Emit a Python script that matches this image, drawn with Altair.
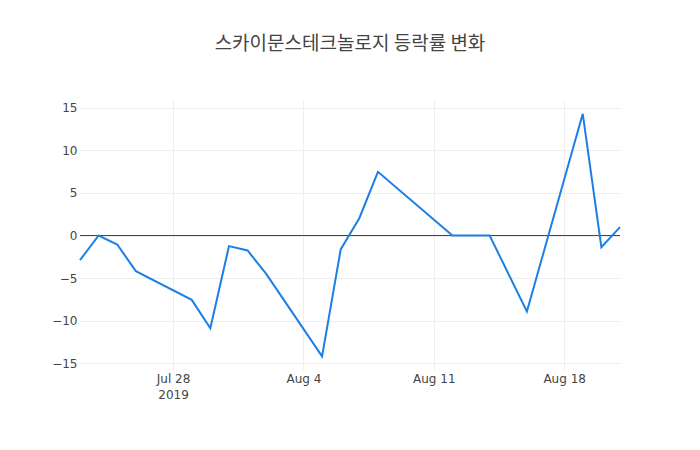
import altair as alt
import pandas as pd

dates = [
    "2019-07-23", "2019-07-24", "2019-07-25", "2019-07-26", "2019-07-29",
    "2019-07-30", "2019-07-31", "2019-08-01", "2019-08-02", "2019-08-05",
    "2019-08-06", "2019-08-07", "2019-08-08", "2019-08-12", "2019-08-13",
    "2019-08-14", "2019-08-16", "2019-08-19", "2019-08-20", "2019-08-21",
]
change = [
    -2.9, 0.0, -1.06, -4.19, -7.56,
    -10.9, -1.25, -1.76, -4.5, -14.2,
    -1.64, 2.03, 7.48, 0.0, 0.0,
    0.0, -8.93, 14.3, -1.37, 0.98,
]
tick_days = [28, 4, 11, 18]
tick_months = [7, 8, 8, 8]

df = pd.DataFrame({"date": dates, "change": change})

font = "DejaVu Sans"
y_domain = [-15.80, 15.92]
x_ticks = [alt.DateTime(year=2019, month=m, date=d, utc=True)
           for m, d in zip(tick_months, tick_days)]

x = alt.X(
    "date:T",
    title=None,
    scale=alt.Scale(
        type="utc",
        domain=[alt.DateTime(year=2019, month=7, date=23, utc=True),
                alt.DateTime(year=2019, month=8, date=21, utc=True)],
    ),
    axis=alt.Axis(
        values=x_ticks,
        labelExpr="datum.index == 0 ? [utcFormat(datum.value, '%b %-d'), '2019'] : utcFormat(datum.value, '%b %-d')",
        labelLineHeight=16,
        labelPadding=3,
    ),
)
y = alt.Y(
    "change:Q",
    title=None,
    scale=alt.Scale(domain=y_domain, nice=False, zero=False),
    axis=alt.Axis(values=[-15, -10, -5, 0, 5, 10, 15], labelPadding=3),
)

line = alt.Chart(df).mark_line(color="#1c7fe6", strokeWidth=2).encode(x=x, y=y)

# zero line
zero = alt.Chart(pd.DataFrame({"v": [0]})).mark_rule(
    color="#444444", strokeWidth=1
).encode(y=alt.Y("v:Q", scale=alt.Scale(domain=y_domain, nice=False, zero=False)))

chart = alt.layer(zero, line).properties(
    width=540,
    height=270,
    padding={"left": 72, "top": 92, "right": 72, "bottom": 72},
    autosize=alt.AutoSizeParams(type="none"),
    title=alt.TitleParams(
        "스카이문스테크놀로지 등락률 변화",
        font="Noto Sans CJK KR",
        fontSize=19,
        fontWeight="normal",
        color="#444444",
        anchor="middle",
        offset=46,
    ),
).configure_view(
    stroke=None
).configure_axis(
    domain=False,
    ticks=False,
    gridColor="#eeeeee",
    labelFont=font,
    labelFontSize=12,
    labelColor="#444444",
)

chart.save("out.html", embed_options={"renderer": "svg", "actions": False})
